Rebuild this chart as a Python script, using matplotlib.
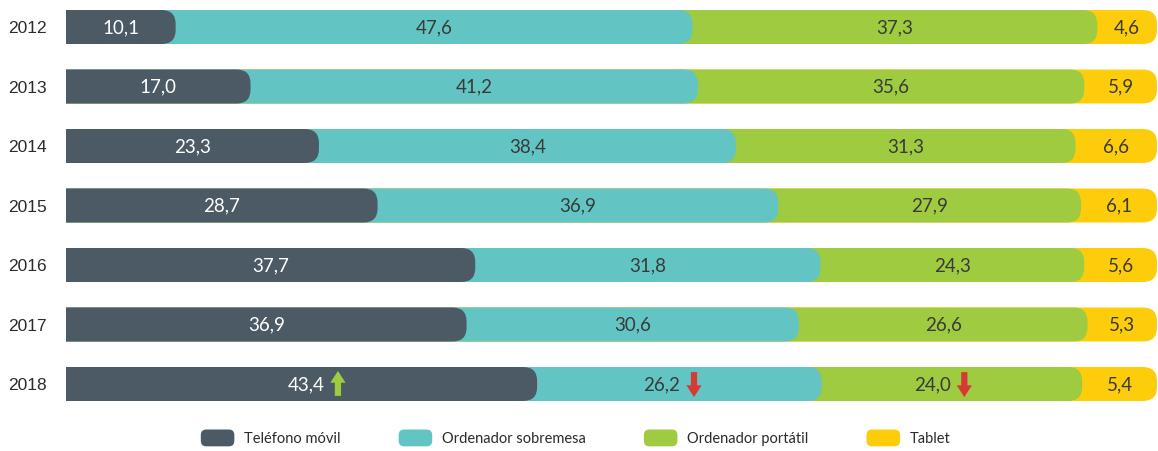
import matplotlib
matplotlib.use("Agg")
import matplotlib.pyplot as plt
from matplotlib.patches import FancyBboxPatch, Patch
from matplotlib.legend_handler import HandlerPatch

years = ["2012", "2013", "2014", "2015", "2016", "2017", "2018"]
series_names = ["Teléfono móvil", "Ordenador sobremesa", "Ordenador portátil", "Tablet"]
telefono = [10.1, 17.0, 23.3, 28.7, 37.7, 36.9, 43.4]
sobremesa = [47.6, 41.2, 38.4, 36.9, 31.8, 30.6, 26.2]
portatil = [37.3, 35.6, 31.3, 27.9, 24.3, 26.6, 24.0]
tablet = [4.6, 5.9, 6.6, 6.1, 5.6, 5.3, 5.4]
# change markers shown for the last year: +1 up, -1 down, 0 none
trend_2018 = [1, -1, -1, 0]

COLORS = ["#4b5a64", "#62c5c4", "#9ecb3f", "#fdcc0a"]
TEXT_COLORS = ["white", "#3a3a3a", "#3a3a3a", "#3a3a3a"]
ARROW_COLORS = {1: "#9ecb3f", -1: "#d63a35"}
TREND_TEXT_SHIFT = [0.4, -1.6, -1.8, 0]  # label shift when an arrow follows
ARROW_GAP = 2.95
BAR_END = 100.5
BAR_H = 0.571
RADIUS = 1.3
ASPECT = 0.18

plt.rcParams["font.family"] = ["Lato", "DejaVu Sans"]

fig = plt.figure(figsize=(11.58, 4.51), dpi=100)
ax = fig.add_axes([66 / 1158, 41 / 451, 1091 / 1158, 410 / 451])

series = [telefono, sobremesa, portatil, tablet]

for i, year in enumerate(years):
    vals = [s[i] for s in series]
    ends = []
    total = 0
    for v in vals:
        total += v
        ends.append(total)
    ends[-1] = BAR_END  # last segment fills the bar
    # draw widest first so the rounded ends overlap the next segment
    for k in range(3, -1, -1):
        box = FancyBboxPatch((-4, i - BAR_H / 2), ends[k] + 4, BAR_H,
                             boxstyle=f"round,pad=0,rounding_size={RADIUS}",
                             mutation_aspect=ASPECT,
                             facecolor=COLORS[k], edgecolor="none")
        ax.add_patch(box)
    starts = [0] + ends[:-1]
    for k, v in enumerate(vals):
        cx = (starts[k] + ends[k]) / 2
        label = f"{v:.1f}".replace(".", ",")
        trend = trend_2018[k] if i == len(years) - 1 else 0
        if trend != 0:
            cx += TREND_TEXT_SHIFT[k]
        ax.text(cx, i + 0.01, label, ha="center", va="center",
                color=TEXT_COLORS[k], fontsize=13.5)
        if trend != 0:
            xa = cx + ARROW_GAP
            y_from, y_to = (i + 0.2, i - 0.22) if trend > 0 else (i - 0.2, i + 0.22)
            ax.annotate("", xy=(xa, y_to), xytext=(xa, y_from),
                        arrowprops=dict(arrowstyle="simple,head_width=1.1,head_length=0.85,tail_width=0.45",
                                        color=ARROW_COLORS[trend], lw=0,
                                        shrinkA=0, shrinkB=0))

ax.set_xlim(0, BAR_END)
ax.set_ylim(6.437, -0.454)
ax.set_yticks(range(len(years)))
ax.set_yticklabels(years, fontsize=12.5, color="#2b2b2b",
                   family=["Liberation Sans", "DejaVu Sans"])
ax.tick_params(axis="y", length=0, pad=14)
ax.set_xticks([])
for sp in ax.spines.values():
    sp.set_visible(False)


def rounded_handle(legend, orig_handle, xdescent, ydescent, width, height, fontsize):
    return FancyBboxPatch((-xdescent, -ydescent), width, height,
                          boxstyle="round,pad=0,rounding_size=4")


handles = [Patch(facecolor=c, edgecolor="none") for c in COLORS]
fig.legend(handles, series_names, loc="center", bbox_to_anchor=(0.497, 0.029),
           ncol=4, frameon=False, fontsize=10.5, handlelength=2.3, handleheight=1.4,
           handletextpad=0.65, columnspacing=4.0,
           handler_map={Patch: HandlerPatch(patch_func=rounded_handle)},
           labelcolor="#2b2b2b")

fig.savefig("out.png", dpi=100)
